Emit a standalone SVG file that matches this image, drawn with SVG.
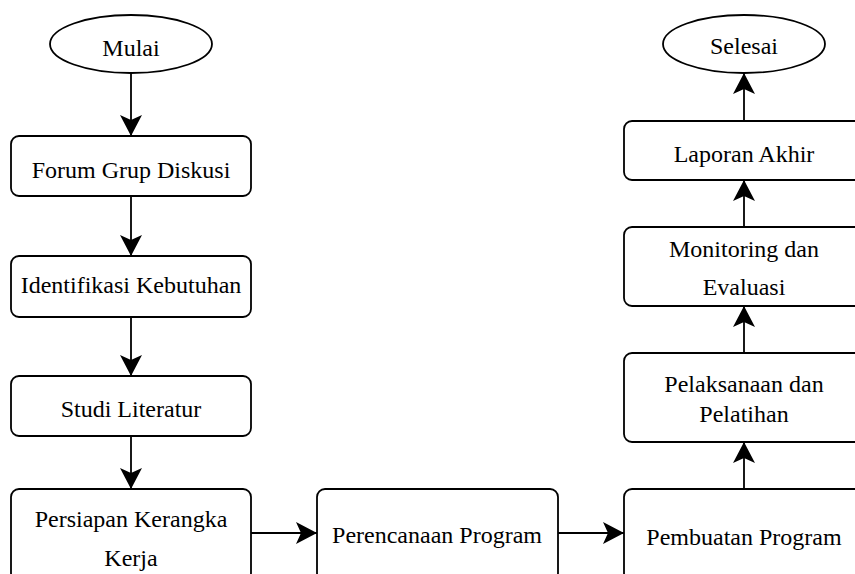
<svg xmlns="http://www.w3.org/2000/svg" width="855" height="574" viewBox="0 0 855 574">
<defs>
<style>
.n{fill:#fff;stroke:#000;stroke-width:1.8}
.t{font-family:"Liberation Serif","Times New Roman",serif;font-size:24px;fill:#000;text-anchor:middle}
.c{fill:none;stroke:#000;stroke-width:1.8}
</style>
<marker id="ah" markerUnits="userSpaceOnUse" markerWidth="21" markerHeight="22" viewBox="0 0 21 22" refX="21" refY="11" orient="auto">
<path d="M0,0 L21,11 L0,22 L5,11 Z" fill="#000"/>
</marker>
</defs>
<rect width="855" height="574" fill="#fff"/>
<g id="connectors">
<line class="c" x1="131" y1="73" x2="131" y2="136" marker-end="url(#ah)"/>
<line class="c" x1="131" y1="196" x2="131" y2="256" marker-end="url(#ah)"/>
<line class="c" x1="131" y1="317" x2="131" y2="376" marker-end="url(#ah)"/>
<line class="c" x1="131" y1="436" x2="131" y2="489" marker-end="url(#ah)"/>
<line class="c" x1="251" y1="533" x2="317" y2="533" marker-end="url(#ah)"/>
<line class="c" x1="558" y1="533" x2="624" y2="533" marker-end="url(#ah)"/>
<line class="c" x1="744" y1="489" x2="744" y2="442" marker-end="url(#ah)"/>
<line class="c" x1="744" y1="353" x2="744" y2="306" marker-end="url(#ah)"/>
<line class="c" x1="744" y1="227" x2="744" y2="180" marker-end="url(#ah)"/>
<line class="c" x1="744" y1="121" x2="744" y2="73" marker-end="url(#ah)"/>
</g>
<g id="mulai"><ellipse class="n" cx="131" cy="44" rx="81" ry="29"/><text class="t" x="131" y="56">Mulai</text></g>
<g id="forum"><rect class="n" x="11" y="136" width="240" height="60" rx="8"/><text class="t" x="131" y="178">Forum Grup Diskusi</text></g>
<g id="identifikasi"><rect class="n" x="11" y="256" width="240" height="61" rx="8"/><text class="t" x="131" y="293">Identifikasi Kebutuhan</text></g>
<g id="studi"><rect class="n" x="11" y="376" width="240" height="60" rx="8"/><text class="t" x="131" y="417">Studi Literatur</text></g>
<g id="persiapan"><rect class="n" x="11" y="489" width="240" height="92" rx="8"/><text class="t" x="131" y="527">Persiapan Kerangka</text><text class="t" x="131" y="566">Kerja</text></g>
<g id="perencanaan"><rect class="n" x="317" y="489" width="241" height="92" rx="8"/><text class="t" x="437" y="543">Perencanaan Program</text></g>
<g id="pembuatan"><rect class="n" x="624" y="489" width="240" height="92" rx="8"/><text class="t" x="744" y="545">Pembuatan Program</text></g>
<g id="pelaksanaan"><rect class="n" x="624" y="353" width="240" height="89" rx="8"/><text class="t" x="744" y="392">Pelaksanaan dan</text><text class="t" x="744" y="422">Pelatihan</text></g>
<g id="monitoring"><rect class="n" x="624" y="227" width="240" height="79" rx="8"/><text class="t" x="744" y="257">Monitoring dan</text><text class="t" x="744" y="295">Evaluasi</text></g>
<g id="laporan"><rect class="n" x="624" y="121" width="240" height="59" rx="8"/><text class="t" x="744" y="162">Laporan Akhir</text></g>
<g id="selesai"><ellipse class="n" cx="744" cy="44" rx="81" ry="29"/><text class="t" x="744" y="54">Selesai</text></g>
</svg>
